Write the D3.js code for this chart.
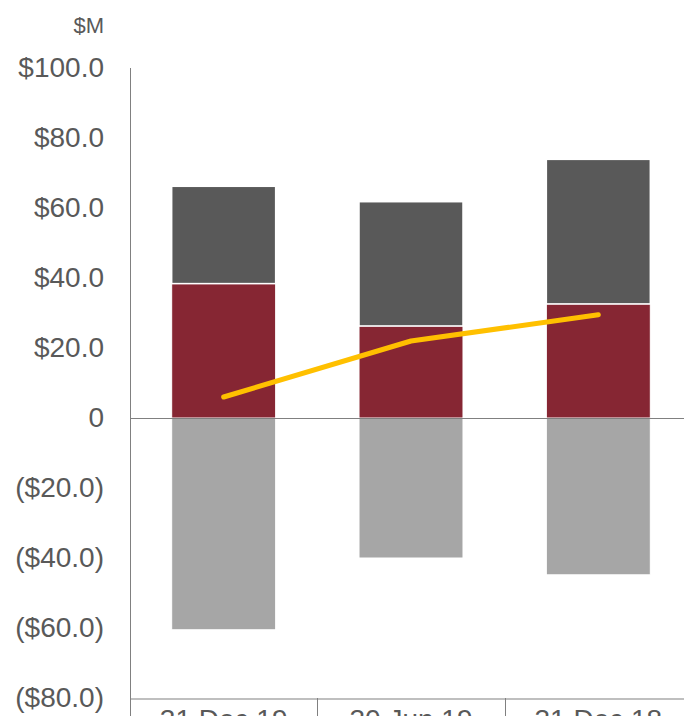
<!DOCTYPE html>
<html>
<head>
<meta charset="utf-8">
<script src="https://cdn.jsdelivr.net/npm/d3@7/dist/d3.min.js"></script>
<style>
  html, body { margin: 0; padding: 0; background: #fff; overflow: hidden; }
  svg { display: block; font-family: "Liberation Sans", Arial, sans-serif; }
</style>
</head>
<body>
<svg id="chart" width="684" height="716"></svg>
<script>
// Period labels
const categories = ["31 Dec 19", "30 Jun 19", "31 Dec 18"];
// Stacked positive components ($M)
const baseValues = [38.4, 26.3, 32.6];
const upperValues = [27.8, 35.5, 41.3];
// Negative component ($M)
const negativeValues = [-60.5, -40.0, -44.8];
// Net line ($M)
const lineValues = [6.0, 22.0, 29.5];
// Y-axis tick values
const tickValues = [100, 80, 60, 40, 20, 0, -20, -40, -60, -80];

const svg = d3.select("#chart");
const plotLeft = 130, plotRight = 692, plotTop = 68, plotBottom = 698;

const x = d3.scaleBand().domain(categories).range([plotLeft, plotRight]).paddingInner(0.445).paddingOuter(0.2225);
const y = d3.scaleLinear().domain([-80, 100]).range([plotBottom, plotTop]);

const fmt = v => v === 0 ? "0" : (v > 0 ? "$" + v.toFixed(1) : "($" + Math.abs(v).toFixed(1) + ")");

const axisColor = "#808080";
const textColor = "#595959";

// Y axis labels
const yAxis = d3.axisLeft(y).tickValues(tickValues).tickFormat(fmt).tickSize(0).tickPadding(26);
const gy = svg.append("g").attr("transform", `translate(${plotLeft},0)`).call(yAxis);
gy.select(".domain").remove();
gy.selectAll("text").attr("font-size", 28).attr("fill", textColor)
  .attr("font-family", "'Liberation Sans', Arial, sans-serif");

svg.append("text").attr("x", 104).attr("y", 33).attr("text-anchor", "end")
  .attr("font-size", 22).attr("fill", textColor).text("$M");

// Bars
const bw = x.bandwidth();
const g = svg.append("g");
categories.forEach((c, i) => {
  const x0 = x(c);
  // negative
  g.append("rect").attr("x", x0).attr("width", bw)
    .attr("y", y(0)).attr("height", y(negativeValues[i]) - y(0))
    .attr("fill", "#A6A6A6").attr("stroke", "#fff").attr("stroke-width", 1);
  // base
  g.append("rect").attr("x", x0).attr("width", bw)
    .attr("y", y(baseValues[i])).attr("height", y(0) - y(baseValues[i]))
    .attr("fill", "#862633").attr("stroke", "#fff").attr("stroke-width", 1);
  // upper
  const topVal = baseValues[i] + upperValues[i];
  g.append("rect").attr("x", x0).attr("width", bw)
    .attr("y", y(topVal)).attr("height", y(baseValues[i]) - y(topVal))
    .attr("fill", "#595959").attr("stroke", "#fff").attr("stroke-width", 1.5);
});

// Y axis line
svg.append("line").attr("x1", plotLeft + 0.5).attr("x2", plotLeft + 0.5).attr("y1", plotTop).attr("y2", 716)
  .attr("stroke", axisColor).attr("stroke-width", 1);

// Zero line
svg.append("line").attr("x1", plotLeft).attr("x2", 684).attr("y1", Math.round(y(0)) + 0.5).attr("y2", Math.round(y(0)) + 0.5)
  .attr("stroke", axisColor).attr("stroke-width", 1.2);

// Bottom category axis
svg.append("line").attr("x1", plotLeft).attr("x2", 684).attr("y1", plotBottom + 1).attr("y2", plotBottom + 1)
  .attr("stroke", axisColor).attr("stroke-width", 1.2);
const step = x.step();
for (let k = 1; k < categories.length; k++) {
  const xs = Math.round(plotLeft + step * k) + 0.5;
  svg.append("line").attr("x1", xs).attr("x2", xs).attr("y1", plotBottom).attr("y2", 716)
    .attr("stroke", axisColor).attr("stroke-width", 1);
}
svg.append("g").selectAll("text").data(categories).join("text")
  .attr("x", d => x(d) + bw / 2).attr("y", 729).attr("text-anchor", "middle")
  .attr("font-size", 28).attr("fill", textColor).text(d => d);

// Net line
const line = d3.line().x((d, i) => x(categories[i]) + bw / 2).y(d => y(d));
svg.append("path").datum(lineValues).attr("d", line)
  .attr("fill", "none").attr("stroke", "#FFC000").attr("stroke-width", 5)
  .attr("stroke-linecap", "round").attr("stroke-linejoin", "round");
</script>
</body>
</html>
